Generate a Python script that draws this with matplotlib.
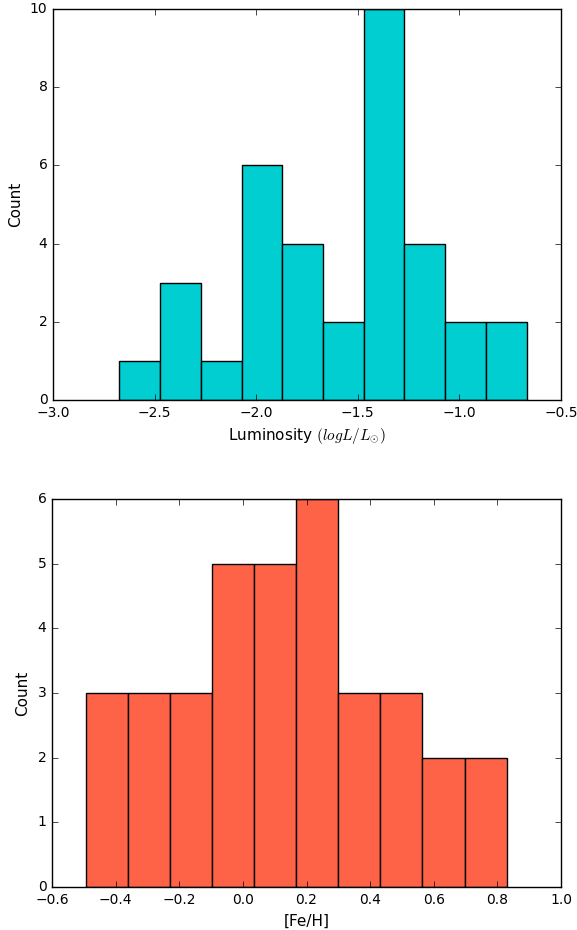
import matplotlib
matplotlib.use("Agg")
import matplotlib.pyplot as plt
import numpy as np

plt.style.use('classic')

# Luminosity histogram
lum_edges = [-2.673, -2.473, -2.272, -2.072, -1.872, -1.671, -1.471, -1.271, -1.070, -0.870, -0.669]
lum_counts = [1, 3, 1, 6, 4, 2, 10, 4, 2, 2]

# Metallicity histogram
feh_edges = [-0.494, -0.362, -0.229, -0.097, 0.035, 0.167, 0.300, 0.432, 0.564, 0.697, 0.829]
feh_counts = [3, 3, 3, 5, 5, 6, 3, 3, 2, 2]

fig = plt.figure(figsize=(5.77, 9.30), dpi=100)
fig.patch.set_facecolor('white')

ax1 = fig.add_axes([53/577, (930-400)/930, 508/577, 391/930])
ax2 = fig.add_axes([52/577, (930-887)/930, 509/577, 388/930])

def draw(ax, edges, counts, color):
    edges = np.asarray(edges)
    widths = np.diff(edges)
    ax.bar(edges[:-1], counts, width=widths, align='edge', color=color,
           edgecolor='black', linewidth=1.0)

draw(ax1, lum_edges, lum_counts, '#00CED1')
draw(ax2, feh_edges, feh_counts, '#FF6347')

ax1.set_xlim(-3.0, -0.5)
ax1.set_ylim(0, 10)
ax1.set_xticks([-3.0, -2.5, -2.0, -1.5, -1.0, -0.5])
ax1.set_yticks([0, 2, 4, 6, 8, 10])
ax1.set_xlabel(r'Luminosity $(log L/L_{\odot})$', fontsize=11)
ax1.set_ylabel('Count', fontsize=11)

ax2.set_xlim(-0.6, 1.0)
ax2.set_ylim(0, 6)
ax2.set_xticks([-0.6, -0.4, -0.2, 0.0, 0.2, 0.4, 0.6, 0.8, 1.0])
ax2.set_yticks([0, 1, 2, 3, 4, 5, 6])
ax2.set_xlabel('[Fe/H]', fontsize=11)
ax2.set_ylabel('Count', fontsize=11)

for ax in (ax1, ax2):
    ax.tick_params(labelsize=10, direction='in', top=True, right=True)
    for s in ax.spines.values():
        s.set_linewidth(1.0)

fig.savefig('out.png', dpi=100, facecolor='white')
